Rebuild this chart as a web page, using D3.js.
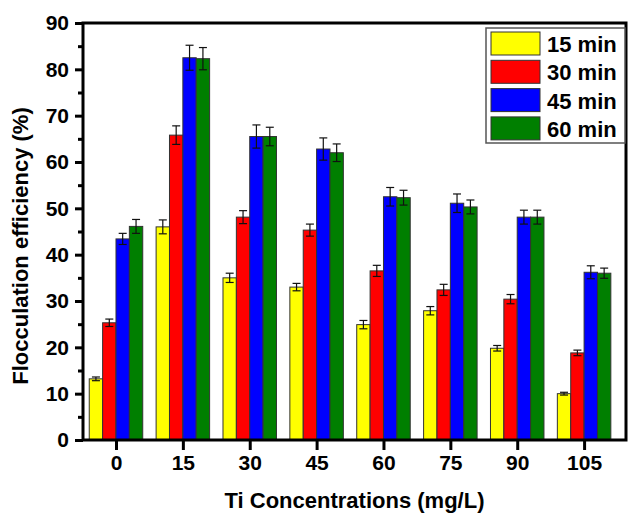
<!DOCTYPE html>
<html>
<head>
<meta charset="utf-8">
<script src="https://cdn.jsdelivr.net/npm/d3@7"></script>
<style>
  body { margin: 0; background: #fff; }
  text { font-family: Arial, "Liberation Sans", sans-serif; font-weight: bold; }
</style>
</head>
<body>
<div id="chart"></div>
<script>
// data
var concentrations = [0, 15, 30, 45, 60, 75, 90, 105];
var seriesNames = ["15 min", "30 min", "45 min", "60 min"];
var seriesColors = ["#ffff00", "#ff0000", "#0000ff", "#007f00"];
var values15 = [13.2, 46.0, 35.0, 33.0, 24.9, 27.9, 19.8, 10.0];
var values30 = [25.3, 65.8, 48.1, 45.3, 36.5, 32.4, 30.4, 18.8];
var values45 = [43.4, 82.5, 65.5, 62.8, 52.5, 51.1, 48.1, 36.2];
var values60 = [46.1, 82.3, 65.5, 62.0, 52.3, 50.3, 48.1, 36.0];
var err15 = [0.4, 1.5, 1.0, 0.8, 0.9, 0.9, 0.6, 0.3];
var err30 = [0.8, 2.0, 1.4, 1.3, 1.2, 1.2, 1.0, 0.6];
var err45 = [1.2, 2.7, 2.5, 2.4, 2.0, 2.0, 1.5, 1.4];
var err60 = [1.5, 2.4, 2.0, 1.9, 1.6, 1.5, 1.5, 1.1];
var yTicks = [0, 10, 20, 30, 40, 50, 60, 70, 80, 90];

var allValues = [values15, values30, values45, values60];
var allErrors = [err15, err30, err45, err60];

var W = 628, H = 516;
var margin = { top: 23, right: 2, bottom: 76, left: 83 },
  width = W - margin.left - margin.right,
  height = H - margin.top - margin.bottom;

var svg = d3.select("#chart").append("svg")
  .attr("width", W)
  .attr("height", H);

var g = svg.append("g")
  .attr("transform", "translate(" + margin.left + "," + margin.top + ")");

var x = d3.scaleLinear().domain([-7.4, 114.4]).range([0, width]);
var y = d3.scaleLinear().domain([0, 90]).range([height, 0]);

// bar width: 4 bars fill 80% of a 15-unit step
var barW = x(15 * 0.2) - x(0);

var rows = [];
allValues.forEach(function (vals, s) {
  vals.forEach(function (v, i) {
    rows.push({ s: s, c: concentrations[i], v: v, e: allErrors[s][i] });
  });
});

function barX(d) {
  return x(d.c) - 2 * barW + d.s * barW;
}

g.selectAll(".bar")
  .data(rows)
  .enter()
  .append("rect")
  .attr("class", "bar")
  .attr("x", barX)
  .attr("width", barW)
  .attr("y", function (d) { return y(d.v); })
  .attr("height", function (d) { return y(0) - y(d.v); })
  .style("fill", function (d) { return seriesColors[d.s]; })
  .style("stroke", "#333")
  .style("stroke-width", 1);

// error bars
var eb = g.selectAll(".err")
  .data(rows)
  .enter()
  .append("g")
  .attr("class", "err")
  .style("stroke", "#111")
  .style("stroke-width", 1.2);

eb.append("line")
  .attr("x1", function (d) { return barX(d) + barW / 2; })
  .attr("x2", function (d) { return barX(d) + barW / 2; })
  .attr("y1", function (d) { return y(d.v + d.e); })
  .attr("y2", function (d) { return y(d.v - d.e); });
eb.append("line")
  .attr("x1", function (d) { return barX(d) + barW / 2 - 4; })
  .attr("x2", function (d) { return barX(d) + barW / 2 + 4; })
  .attr("y1", function (d) { return y(d.v + d.e); })
  .attr("y2", function (d) { return y(d.v + d.e); });
eb.append("line")
  .attr("x1", function (d) { return barX(d) + barW / 2 - 4; })
  .attr("x2", function (d) { return barX(d) + barW / 2 + 4; })
  .attr("y1", function (d) { return y(d.v - d.e); })
  .attr("y2", function (d) { return y(d.v - d.e); });

// axes
var yAxis = d3.axisLeft(y).tickValues(yTicks).tickSize(8).tickPadding(6);
var yMinor = d3.axisLeft(y).tickValues(d3.range(5, 90, 10)).tickSize(5).tickFormat("");
var xAxis = d3.axisBottom(x).tickValues(concentrations).tickSize(10).tickPadding(5);

g.append("g").attr("class", "axis").call(yAxis);
g.append("g").attr("class", "axis").call(yMinor);
g.append("g").attr("class", "axis")
  .attr("transform", "translate(0," + height + ")")
  .call(xAxis);

g.selectAll(".axis .domain").remove();
g.selectAll(".axis .tick line").style("stroke", "#000").style("stroke-width", 3);
g.selectAll(".axis text").style("font-size", "21px").style("fill", "#000");

// frame
g.append("rect")
  .attr("x", 0).attr("y", 0)
  .attr("width", width).attr("height", height)
  .style("fill", "none")
  .style("stroke", "#000")
  .style("stroke-width", 3);

// axis titles
svg.append("text")
  .attr("transform", "translate(28,246) rotate(-90)")
  .attr("text-anchor", "middle")
  .style("font-size", "22px")
  .text("Flocculation efficiency (%)");

svg.append("text")
  .attr("x", margin.left + width / 2)
  .attr("y", 508)
  .attr("text-anchor", "middle")
  .style("font-size", "22px")
  .text("Ti Concentrations (mg/L)");

// legend
var lg = svg.append("g").attr("transform", "translate(486,28)");
lg.append("rect")
  .attr("width", 139).attr("height", 115)
  .style("fill", "#fff")
  .style("stroke", "#555")
  .style("stroke-width", 1.5);
seriesNames.forEach(function (name, i) {
  lg.append("rect")
    .attr("x", 5).attr("y", 4 + i * 28.3)
    .attr("width", 49).attr("height", 23)
    .style("fill", seriesColors[i])
    .style("stroke", "#333");
  lg.append("text")
    .attr("x", 61).attr("y", 24 + i * 28.3)
    .style("font-size", "22px")
    .text(name);
});
</script>
</body>
</html>
